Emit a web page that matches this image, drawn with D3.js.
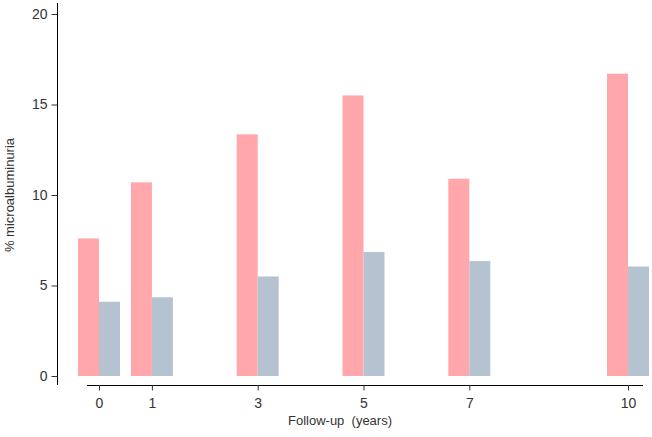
<!DOCTYPE html>
<html lang="en">
<head>
    <meta charset="UTF-8">
    <title>Microalbuminuria by follow-up</title>
    <script src="https://d3js.org/d3.v7.min.js"></script>
    <style>
        body { margin: 0; background: #fff; }
        text { font-family: "Liberation Sans", Arial, sans-serif; fill: #333; }
    </style>
</head>
<body>
    <div id="chart-container"></div>

    <script>
        // Follow-up years and % microalbuminuria for the two groups
        const years = [0, 1, 3, 5, 7, 10];
        const groupA = [7.6, 10.7, 13.35, 15.5, 10.9, 16.7];
        const groupB = [4.1, 4.35, 5.5, 6.85, 6.35, 6.05];
        const yTicks = [0, 5, 10, 15, 20];

        const width = 652, height = 437;

        const svg = d3.select("#chart-container")
            .append("svg")
            .attr("width", width)
            .attr("height", height);

        const xScale = d3.scaleLinear()
            .domain([0, 10])
            .range([99, 628]);

        const yScale = d3.scaleLinear()
            .domain([0, 20])
            .range([376, 14]);

        const barW = 21;

        // pink bars sit left of the tick, grey bars right of it
        svg.selectAll(".barA")
            .data(years)
            .enter().append("rect")
            .attr("x", d => xScale(d) - barW)
            .attr("y", (d, i) => yScale(groupA[i]))
            .attr("width", barW)
            .attr("height", (d, i) => yScale(0) - yScale(groupA[i]))
            .attr("fill", "#ffa7aa");

        svg.selectAll(".barB")
            .data(years)
            .enter().append("rect")
            .attr("x", d => xScale(d))
            .attr("y", (d, i) => yScale(groupB[i]))
            .attr("width", barW)
            .attr("height", (d, i) => yScale(0) - yScale(groupB[i]))
            .attr("fill", "#b5c3d0");

        // y axis
        const yAxis = d3.axisLeft(yScale)
            .tickValues(yTicks)
            .tickSize(6)
            .tickPadding(4);

        const gy = svg.append("g")
            .attr("transform", "translate(57.5,0)")
            .call(yAxis);
        gy.select(".domain").attr("d", "M0,3V385");
        gy.selectAll("line").attr("stroke", "#333");
        gy.selectAll("text").style("font-size", "14px").attr("fill", "#333");

        // x axis
        const xAxis = d3.axisBottom(xScale)
            .tickValues(years)
            .tickSize(5)
            .tickPadding(8);

        const gx = svg.append("g")
            .attr("transform", "translate(0,385.5)")
            .call(xAxis);
        gx.select(".domain").attr("d", "M87,0H643");
        gx.selectAll("line").attr("stroke", "#333");
        gx.selectAll("text").style("font-size", "14px").attr("fill", "#333");

        // axis titles
        svg.append("text")
            .attr("x", 340)
            .attr("y", 425)
            .attr("text-anchor", "middle")
            .style("font-size", "13px")
            .style("white-space", "pre")
            .text("Follow-up  (years)");

        svg.append("text")
            .attr("transform", "translate(14,195) rotate(-90)")
            .attr("text-anchor", "middle")
            .style("font-size", "13px")
            .text("% microalbuminuria");
    </script>
</body>
</html>
